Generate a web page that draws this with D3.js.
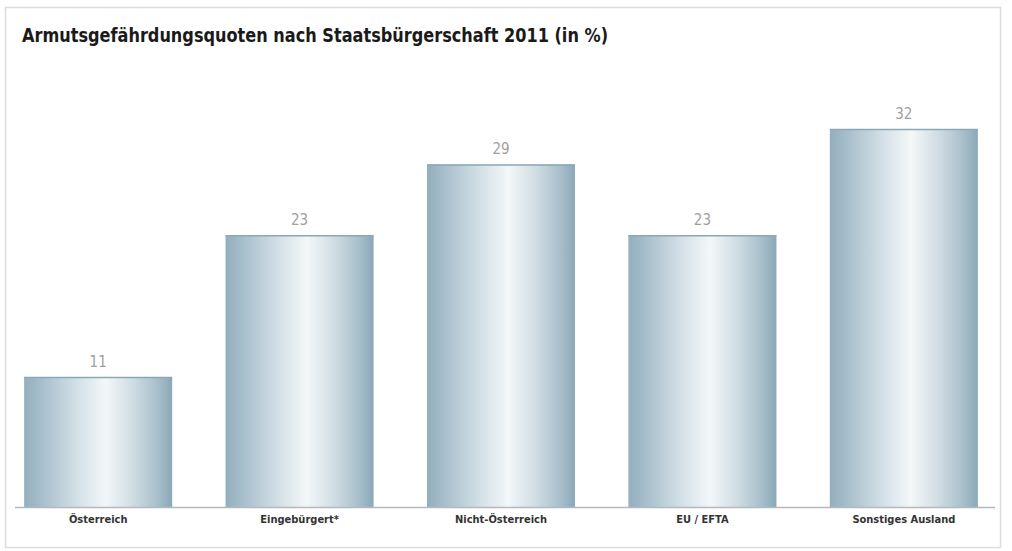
<!DOCTYPE html>
<html>
<head>
<meta charset="utf-8">
<script src="https://cdn.jsdelivr.net/npm/d3@7"></script>
<style>
  body { margin: 0; background: #fff; }
  text { font-family: "Liberation Sans Narrow", "DejaVu Sans Condensed", "Liberation Sans", sans-serif; }
</style>
</head>
<body>
<div id="chart"></div>
<script>
const categories = ["Österreich", "Eingebürgert*", "Nicht-Österreich", "EU / EFTA", "Sonstiges Ausland"];
const values = [11, 23, 29, 23, 32];
const title = "Armutsgefährdungsquoten nach Staatsbürgerschaft 2011 (in %)";

const W = 1012, H = 551;
const baseY = 507;

var svg = d3.select("#chart")
  .append("svg")
    .attr("width", W)
    .attr("height", H);

// frame
svg.append("rect")
  .attr("x", 5.5).attr("y", 7.5)
  .attr("width", 995).attr("height", 540)
  .attr("fill", "#fff")
  .attr("stroke", "#dcdcdc")
  .attr("stroke-width", 1.5);

// metallic gradient for bars
var grad = svg.append("defs").append("linearGradient")
  .attr("id", "barGrad")
  .attr("x1", "0%").attr("x2", "100%").attr("y1", "0%").attr("y2", "0%");
[["0%", "#93aebd"], ["15%", "#adc3cf"], ["38%", "#d7e3e9"], ["55%", "#f3f7f8"],
 ["72%", "#d3dfe5"], ["90%", "#a8bfcb"], ["100%", "#8aa8b8"]].forEach(s => {
  grad.append("stop").attr("offset", s[0]).attr("stop-color", s[1]);
});

var x = d3.scaleBand()
  .domain(categories)
  .range([4, 998])
  .paddingInner(0.265)
  .paddingOuter(0.1);

var y = d3.scaleLinear()
  .domain([0, 32])
  .range([baseY, 129]);

// bars
svg.selectAll(".bar")
  .data(values)
  .enter().append("rect")
  .attr("class", "bar")
  .attr("x", (d, i) => x(categories[i]))
  .attr("y", d => y(d))
  .attr("width", x.bandwidth())
  .attr("height", d => y(0) - y(d))
  .attr("fill", "url(#barGrad)");

// top edge of bars
svg.selectAll(".edge")
  .data(values)
  .enter().append("line")
  .attr("x1", (d, i) => x(categories[i]))
  .attr("x2", (d, i) => x(categories[i]) + x.bandwidth())
  .attr("y1", d => y(d) + 0.5)
  .attr("y2", d => y(d) + 0.5)
  .attr("stroke", "#8ea7b5")
  .attr("stroke-width", 1.5);

// baseline axis
var xAxis = svg.append("g")
  .attr("transform", `translate(0,${baseY})`)
  .call(d3.axisBottom(x).tickSize(0).tickPadding(8));
xAxis.select(".domain").remove();
xAxis.append("line")
  .attr("x1", 15).attr("x2", 995)
  .attr("y1", 0.5).attr("y2", 0.5)
  .attr("stroke", "#b5b9bc")
  .attr("stroke-width", 1.5);
xAxis.selectAll(".tick text")
  .attr("font-family", "'Liberation Sans Narrow', 'DejaVu Sans Condensed', sans-serif")
  .attr("font-size", 11)
  .attr("font-weight", "bold")
  .attr("fill", "#333");

// value labels
svg.selectAll(".val")
  .data(values)
  .enter().append("text")
  .attr("class", "val")
  .attr("x", (d, i) => x(categories[i]) + x.bandwidth() / 2)
  .attr("y", d => y(d) - 10)
  .attr("text-anchor", "middle")
  .attr("font-size", 15)
  .attr("fill", "#a0a0a0")
  .text(d => d);

// title
svg.append("text")
  .attr("x", 22)
  .attr("y", 42)
  .attr("font-size", 19)
  .attr("font-weight", "bold")
  .attr("fill", "#1a1a1a")
  .attr("textLength", 586)
  .attr("lengthAdjust", "spacingAndGlyphs")
  .text(title);
</script>
</body>
</html>
